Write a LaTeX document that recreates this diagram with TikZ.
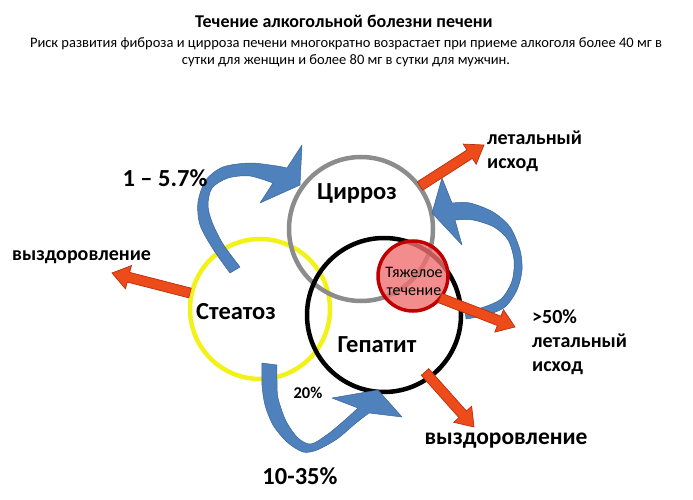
\documentclass[tikz,border=0pt]{standalone}
\usepackage{fontspec}
\setmainfont{Carlito}
\usetikzlibrary{calc}
\definecolor{arrblue}{HTML}{4F81BD}
\definecolor{arrblueedge}{HTML}{3A6496}
\definecolor{arrred}{HTML}{EE4B1A}
\definecolor{arrrededge}{HTML}{B8300E}
\definecolor{ringyellow}{HTML}{F2F21A}
\definecolor{ringgray}{HTML}{8C8C8C}
\definecolor{redfill}{HTML}{F07070}
\definecolor{rededge}{HTML}{C00000}
\tikzset{
  ring/.style={circle, line width=4.5pt, inner sep=0pt, minimum size=#1},
  bluearr/.style={fill=arrblue, draw=arrblueedge, line width=0.5pt, line join=round},
  redarr/.style={fill=arrred, draw=arrrededge, line width=0.7pt, line join=miter},
  biglbl/.style={font=\fontsize{24.5}{26}\bfseries\selectfont, inner sep=0pt},
  midlbl/.style={font=\fontsize{20}{24}\bfseries\selectfont, inner sep=0pt, align=left},
}
\newcommand\myredarrow[2]{%
  \coordinate (hh) at ($(#2)!17pt!(#1)$);
  \filldraw[redarr] ($(#1)!5pt!90:(#2)$) -- ($(hh)!5pt!90:(#2)$) -- ($(hh)!12pt!90:(#2)$) -- (#2)
    -- ($(hh)!12pt!-90:(#2)$) -- ($(hh)!5pt!-90:(#2)$) -- ($(#1)!5pt!-90:(#2)$) -- cycle;
}
\begin{document}
\begin{tikzpicture}[x=1pt,y=-1pt]
\useasboundingbox (0,0) rectangle (693,500);
% titles
\node[font=\fontsize{18}{20}\bfseries\selectfont] (title) at (344,21) {Течение алкогольной болезни печени};
\node[font=\fontsize{14.5}{17}\selectfont, align=center] (sub) at (346,52)
  {Риск развития фиброза и цирроза печени многократно возрастает при приеме алкоголя более 40 мг в\\
   сутки для женщин и более 80 мг в сутки для мужчин.};
% rings
\node[ring=140pt, draw=ringyellow] (steat) at (260,309) {};
\node[ring=144pt, draw=ringgray] (cirr) at (361,229) {};
\node[ring=154pt, draw=black] (hep) at (384,315) {};
\node[ring=70pt, draw=rededge, line width=3.5pt, fill=redfill, fill opacity=0.8] (sev) at (413,276) {};
% blue curved arrows
\filldraw[bluearr] plot[smooth] coordinates {(230,273) (213,249) (200,225) (198,202) (206,180) (223,167) (250,163) (277,166) (287,168)}
  -- (302,145) -- (300,185) -- (260,203) -- (273,183)
  -- plot[smooth] coordinates {(273,183) (250,176) (228,178) (212,188) (208,205) (212,222) (223,244) (240,267)} -- cycle;
\filldraw[bluearr] (442,178) -- (452,203)
  -- plot[smooth] coordinates {(452,203) (470,203) (493,212) (510,227) (520,250) (522,270) (517,290) (505,307) (487,315) (466,319)}
  -- (465,311)
  -- plot[smooth] coordinates {(465,311) (481,308) (501,299) (512,281) (514,260) (508,240) (494,227) (473,220) (455,220)}
  -- (462,245) -- (432,213) -- cycle;
\filldraw[bluearr] plot[smooth] coordinates {(262,363) (262,385) (265,405) (273,425) (287,442) (303,452) (317,450) (337,439) (356,423) (369,413)}
  -- (402,417) -- (378,390) -- (332,398) -- (358,408)
  -- plot[smooth] coordinates {(358,408) (346,419) (328,434) (311,444) (298,438) (286,421) (278,398) (277,380) (277,365)} -- cycle;
% red arrows
\coordinate (ra1) at (190,293); \coordinate (rb1) at (112,273);
\coordinate (ra2) at (420,186); \coordinate (rb2) at (484,145);
\coordinate (ra3) at (440,298); \coordinate (rb3) at (515,327);
\coordinate (ra4) at (425,372); \coordinate (rb4) at (474,427);
\myredarrow{ra1}{rb1}
\myredarrow{ra2}{rb2}
\myredarrow{ra3}{rb3}
\myredarrow{ra4}{rb4}
% labels
\node[biglbl] (lsteat) at (236,312) {Стеатоз};
\node[biglbl] (lcirr) at (357,193) {Цирроз};
\node[biglbl] (lhep) at (377,345) {Гепатит};
\node[font=\fontsize{16}{18}\selectfont, align=center, inner sep=0pt] (lsev) at (414,281) {Тяжелое\\течение};
\node[biglbl] (p1) at (165,178) {1 – 5.7\%};
\node[biglbl] (p2) at (300,476) {10-35\%};
\node[font=\fontsize{16.5}{18}\bfseries\selectfont, inner sep=0pt] (p3) at (308,393) {20\%};
\node[midlbl, anchor=west] (rec1) at (12,257) {выздоровление};
\node[font=\fontsize{23.5}{26}\bfseries\selectfont, inner sep=0pt] (rec2) at (506,441) {выздоровление};
\node[midlbl, anchor=north west] (death1) at (487,131) {летальный\\исход};
\node[midlbl, anchor=north west] (death2) at (532,310) {>50\%\\летальный\\исход};
\end{tikzpicture}
\end{document}
